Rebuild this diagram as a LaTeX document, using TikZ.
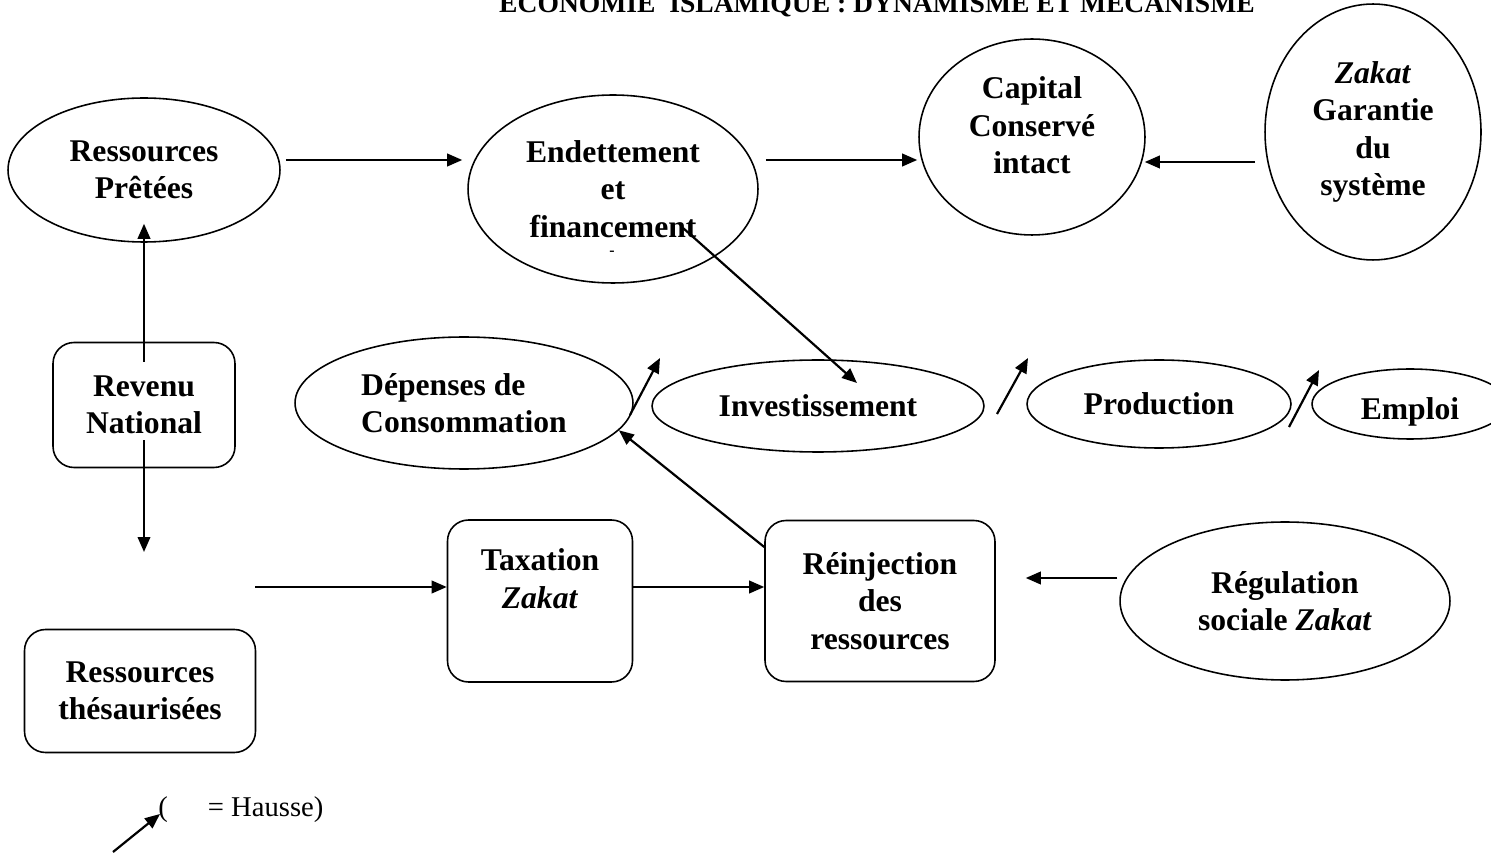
\documentclass[tikz,border=0pt]{standalone}
\usepackage{fontspec}
\setmainfont{Liberation Serif}
\usetikzlibrary{arrows.meta,shapes.geometric,calc}

\begin{document}
\begin{tikzpicture}[x=0.02cm, y=-0.02cm,
    bulle/.style={ellipse, draw, line width=0.9pt, inner sep=0pt, align=center,
        font=\bfseries\fontsize{18}{21.4}\selectfont},
    boite/.style={rectangle, rounded corners=0.42cm, draw, line width=0.9pt, inner sep=0pt, align=center,
        font=\bfseries\fontsize{18}{21.4}\selectfont},
    fleche/.style={-{Triangle[length=0.3cm,width=0.25cm]}, line width=1.25pt}]

\useasboundingbox (0,0) rectangle (1491,854);

% titre (coupe en haut)
\node[anchor=base, inner sep=0pt, font=\bfseries\fontsize{15.7}{18}\selectfont] (titre) at (877,13)
    {ÉCONOMIE\ \ ISLAMIQUE : DYNAMISME ET MÉCANISME};

\begin{scope}[every node/.style={bulle}]
    \node[minimum width=5.44cm, minimum height=2.88cm] (rp) at (144,170) {Ressources\\Prêtées};
    \node[minimum width=5.8cm, minimum height=3.76cm] (endet) at (613,189) {Endettement\\et\\financement};
    \node[minimum width=4.52cm, minimum height=3.92cm] (cap) at (1032,137) {Capital\\Conservé\\intact\\[-8pt]\mbox{}};
    \node[minimum width=4.32cm, minimum height=5.12cm] (zak) at (1373,132) {\textit{Zakat}\\Garantie\\du\\système};
    \node[minimum width=6.76cm, minimum height=2.64cm, align=left] (dep) at (464,403) {Dépenses de\\Consommation};
    \node[minimum width=6.64cm, minimum height=1.84cm] (inv) at (818,406) {Investissement};
    \node[minimum width=5.28cm, minimum height=1.76cm] (prod) at (1159,404) {Production};
    \node[minimum width=3.92cm, minimum height=1.4cm, text height=17.6pt, text depth=0pt] (emp) at (1410,404) {Emploi};
    \node[minimum width=6.6cm, minimum height=3.16cm] (reg) at (1285,601) {Régulation\\sociale \textit{Zakat}};
\end{scope}

\begin{scope}[every node/.style={boite}]
    \node[minimum width=3.64cm, minimum height=2.5cm] (rev) at (144,405) {Revenu\\National};
    \node[minimum width=3.7cm, minimum height=3.24cm] (tax) at (540,601) {Taxation\\\textit{Zakat}\\[4pt]\mbox{}};
    \node[minimum width=4.6cm, minimum height=3.22cm] (rein) at (880,601) {Réinjection\\des\\ressources};
    \node[minimum width=4.62cm, minimum height=2.46cm] (thes) at (140,691) {Ressources\\thésaurisées};
\end{scope}

\node[inner sep=0pt, font=\bfseries\fontsize{9}{10}\selectfont] (endetfin) at (612,253) {-};

% extremites libres
\coordinate (revbas) at (144,552);
\coordinate (thesout) at (255,587);
\coordinate (h1a) at (630,415);
\coordinate (h1b) at (660,358);
\coordinate (h2a) at (997,414);
\coordinate (h2b) at (1028,358);
\coordinate (h3a) at (1289,427);
\coordinate (h3b) at (1319,370);
\coordinate (lega) at (113,852);
\coordinate (legb) at (160,814);

\begin{scope}[fleche]
    \draw ($(rev.north)+(0,20)$) -- ($(rp.south)+(0,-19)$);
    \draw ($(rev.south)+(0,-28)$) -- (revbas);
    \draw ($(rp.east)+(5,-10)$) -- ($(endet.west)+(-5,-29)$);
    \draw ($(endet.east)+(7,-29)$) -- ($(cap.west)+(-1,23)$);
    \draw ($(zak.west)+(-9,30)$) -- ($(cap.east)+(-1,25)$);
    \draw ($(endet.center)+(70,39)$) -- ($(inv.center)+(39,-23)$);
    \draw (thesout) -- (thesout -| tax.west);
    \draw (thesout -| tax.east) -- (thesout -| rein.west);
    \draw (rein.155) -- (dep.-10);
    \draw ($(reg.west)+(-2,-23)$) -- ($(rein.east)+(30,-23)$);
    \draw (h1a) -- (h1b);
    \draw (h2a) -- (h2b);
    \draw (h3a) -- (h3b);
    \draw (lega) -- (legb);
\end{scope}

\node[anchor=base west, inner sep=0pt, font=\fontsize{16.3}{19}\selectfont] (legende) at (158,816)
    {(\hspace{0.8cm}= Hausse)};

\end{tikzpicture}
\end{document}
